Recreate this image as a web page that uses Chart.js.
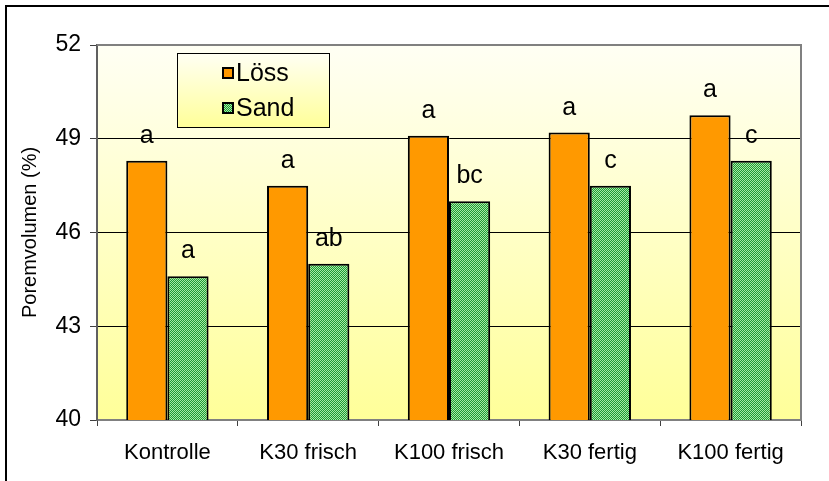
<!DOCTYPE html>
<html>
<head>
<meta charset="utf-8">
<script src="https://cdn.jsdelivr.net/npm/chart.js@4/dist/chart.umd.min.js"></script>
<style>
  html, body { margin: 0; padding: 0; background: #ffffff; }
  #wrap { width: 829px; height: 481px; position: relative; }
</style>
</head>
<body>
<div id="wrap"><canvas id="c" width="829" height="481"></canvas></div>
<script>
// Pore volume per treatment, two soil types
const categories = ['Kontrolle', 'K30 frisch', 'K100 frisch', 'K30 fertig', 'K100 fertig'];
const seriesNames = ['Löss', 'Sand'];
const loessValues = [48.3, 47.5, 49.1, 49.2, 49.75];
const sandValues = [44.6, 45.0, 47.0, 47.5, 48.3];
// significance letters shown above each bar
const loessLetters = ['a', 'a', 'a', 'a', 'a'];
const sandLetters = ['a', 'ab', 'bc', 'c', 'c'];
const yTicks = [40, 43, 46, 49, 52];

const FONT = '"Liberation Sans", Arial, sans-serif';

// dotted green fill for the Sand bars
function makeSandPattern() {
  const p = document.createElement('canvas');
  p.width = 2; p.height = 2;
  const g = p.getContext('2d');
  g.fillStyle = '#1f9a34'; g.fillRect(0, 0, 2, 2);
  g.fillStyle = '#a6eaa6'; g.fillRect(0, 0, 1, 1); g.fillRect(1, 1, 1, 1);
  return g.createPattern(p, 'repeat');
}
const sandPattern = makeSandPattern();

function plotGradient(ctx, top, bottom) {
  const gr = ctx.createLinearGradient(0, top, 0, bottom);
  gr.addColorStop(0, '#fffff4');
  gr.addColorStop(1, '#ffff99');
  return gr;
}

const framePlugin = {
  id: 'frame',
  beforeDraw(chart) {
    const { ctx, chartArea: a } = chart;
    ctx.save();
    ctx.fillStyle = '#ffffff';
    ctx.fillRect(0, 0, chart.width, chart.height);
    // outer frame
    ctx.strokeStyle = '#000000';
    ctx.lineWidth = 2;
    ctx.strokeRect(6, 6, chart.width + 10, chart.height + 10);
    // plot background
    ctx.fillStyle = plotGradient(ctx, a.top, a.bottom);
    ctx.fillRect(a.left, a.top, a.right - a.left, a.bottom - a.top);
    ctx.restore();
  },
  afterDraw(chart) {
    const { ctx, chartArea: a } = chart;
    ctx.save();
    ctx.strokeStyle = '#808080';
    ctx.lineWidth = 2;
    ctx.beginPath();
    ctx.moveTo(a.left, a.top);
    ctx.lineTo(a.right, a.top);
    ctx.lineTo(a.right, a.bottom);
    ctx.stroke();
    ctx.restore();
  }
};

const lettersPlugin = {
  id: 'letters',
  afterDatasetsDraw(chart) {
    const { ctx } = chart;
    const letterSets = [loessLetters, sandLetters];
    ctx.save();
    ctx.font = '25px ' + FONT;
    ctx.fillStyle = '#000000';
    ctx.textAlign = 'center';
    ctx.textBaseline = 'alphabetic';
    chart.data.datasets.forEach((ds, di) => {
      const meta = chart.getDatasetMeta(di);
      meta.data.forEach((bar, i) => {
        ctx.fillText(letterSets[di][i], bar.x, bar.y - 18);
      });
    });
    ctx.restore();
  }
};

const legendBoxPlugin = {
  id: 'legendBox',
  afterDraw(chart) {
    const { ctx } = chart;
    const x = 177, y = 53, w = 152, h = 74;
    ctx.save();
    ctx.fillStyle = plotGradient(ctx, y, y + h);
    ctx.fillRect(x, y, w, h);
    ctx.strokeStyle = '#000000';
    ctx.lineWidth = 1;
    ctx.strokeRect(x + 0.5, y + 0.5, w, h);
    ctx.font = '25px ' + FONT;
    ctx.textBaseline = 'middle';
    ctx.textAlign = 'left';
    const rows = [y + 20, y + 55];
    chart.data.datasets.forEach((ds, i) => {
      const cy = rows[i];
      ctx.fillStyle = ds.backgroundColor;
      ctx.fillRect(223, cy - 5, 10, 10);
      ctx.strokeStyle = '#000000';
      ctx.lineWidth = 2;
      ctx.strokeRect(223, cy - 5, 10, 10);
      ctx.fillStyle = '#000000';
      ctx.fillText(ds.label, 236, cy + 1);
    });
    ctx.restore();
  }
};

new Chart(document.getElementById('c'), {
  type: 'bar',
  data: {
    labels: categories,
    datasets: [
      { label: seriesNames[0], data: loessValues, backgroundColor: '#ff9900', borderColor: '#000000', borderWidth: 2 },
      { label: seriesNames[1], data: sandValues, backgroundColor: sandPattern, borderColor: '#000000', borderWidth: 2 }
    ]
  },
  options: {
    responsive: false,
    animation: false,
    devicePixelRatio: 1,
    layout: { padding: { left: 0, top: 45, right: 28, bottom: 0 } },
    plugins: {
      legend: { display: false },
      tooltip: { enabled: false }
    },
    datasets: { bar: { barPercentage: 1.0, categoryPercentage: 0.585 } },
    scales: {
      x: {
        afterFit(scale) { scale.height = 61; },
        grid: {
          offset: true,
          drawOnChartArea: false,
          drawTicks: true,
          tickLength: 6,
          tickColor: '#404040',
          color: '#404040'
        },
        border: { display: true, color: '#808080', width: 2 },
        ticks: { color: '#000000', font: { family: FONT, size: 22 }, padding: 14 }
      },
      y: {
        min: 40,
        max: 52,
        afterFit(scale) { scale.width = 97; },
        afterBuildTicks(scale) { scale.ticks = yTicks.map(v => ({ value: v })); },
        grid: {
          color: ctx => (ctx.tick && (ctx.tick.value === 40 || ctx.tick.value === 52)) ? 'rgba(0,0,0,0)' : '#000000',
          lineWidth: 1,
          tickLength: 7,
          tickColor: '#404040'
        },
        border: { display: true, color: '#606060', width: 2 },
        ticks: { color: '#000000', font: { family: FONT, size: 23 }, padding: 9 },
        title: {
          display: true,
          text: 'Poremvolumen (%)',
          color: '#000000',
          font: { family: FONT, size: 20 },
          padding: { top: 18, bottom: 4 }
        }
      }
    }
  },
  plugins: [framePlugin, lettersPlugin, legendBoxPlugin]
});
</script>
</body>
</html>
